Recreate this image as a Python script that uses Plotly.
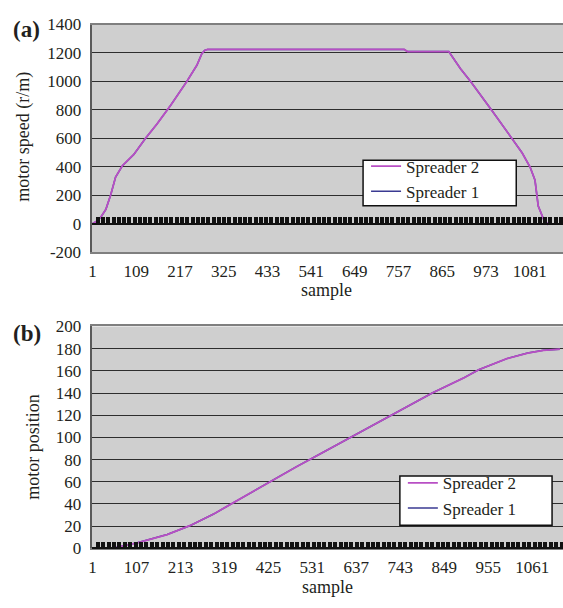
import plotly.graph_objects as go

# (a) motor speed vs sample
speed_samples = [1, 10, 21, 34, 46, 58, 75, 103, 132, 160, 193, 222, 234, 259, 271, 278, 285,
                 500, 771, 779, 881, 910, 935, 988, 1037, 1062, 1082, 1094, 1102, 1115, 1127]
speed_spreader2 = [0, 15, 44, 101, 203, 328, 408, 487, 601, 700, 828, 950, 1000, 1115, 1195, 1218, 1225,
                   1225, 1225, 1210, 1210, 1089, 999, 794, 601, 499, 397, 305, 124, 33, -8]
speed_spreader1 = [0, 15, 44, 101, 203, 328, 408, 487, 601, 700, 828, 950, 1000, 1115, 1195, 1218, 1225,
                   1225, 1225, 1210, 1210, 1089, 999, 794, 601, 499, 397, 305, 124, 33, -8]
speed_ticks = [1, 109, 217, 325, 433, 541, 649, 757, 865, 973, 1081]
speed_yticks = [-200, 0, 200, 400, 600, 800, 1000, 1200, 1400]

# (b) motor position vs sample
pos_samples = [1, 49, 109, 181, 237, 293, 341, 429, 493, 565, 623, 720, 820, 896, 932, 1000, 1050, 1088, 1128]
pos_spreader2 = [0, 0, 5, 12.4, 20.6, 30.9, 41.2, 60.3, 73.6, 88.2, 100, 120, 140, 153.6, 161, 171, 176, 178.5, 179.5]
pos_spreader1 = [0, 0, 5, 12.4, 20.6, 30.9, 41.2, 60.3, 73.6, 88.2, 100, 120, 140, 153.6, 161, 171, 176, 178.5, 179.5]
pos_ticks = [1, 107, 213, 319, 425, 531, 637, 743, 849, 955, 1061]

W, H = 563, 608
FONT = "Liberation Serif"
TXT = "#231f20"
C1 = "#3a3a92"
C2 = "#b84fc4"
BG = "#cfcfcf"
GRID = "#2e2e2e"


def py(px):
    return 1 - px / H


dom_x = [89 / W, 1.0]
dom_a = [py(251), py(16)]
dom_b = [py(556.7), py(327.7)]
xr_a = [1 - 1 / 0.407, 1 + 473 / 0.407]
xr_b = [1 - 1 / 0.417, 1 + 473 / 0.417]

fig = go.Figure()
fig.add_trace(go.Scatter(x=speed_samples, y=speed_spreader1, name="Spreader 1", mode="lines",
                         line=dict(color=C1, width=1.5), xaxis="x", yaxis="y", legend="legend"))
fig.add_trace(go.Scatter(x=speed_samples, y=speed_spreader2, name="Spreader 2", mode="lines",
                         line=dict(color=C2, width=1.8), xaxis="x", yaxis="y", legend="legend"))
fig.add_trace(go.Scatter(x=pos_samples, y=pos_spreader1, name="Spreader 1", mode="lines",
                         line=dict(color=C1, width=1.5), xaxis="x2", yaxis="y2", legend="legend2"))
fig.add_trace(go.Scatter(x=pos_samples, y=pos_spreader2, name="Spreader 2", mode="lines",
                         line=dict(color=C2, width=1.8), xaxis="x2", yaxis="y2", legend="legend2"))
# carriers for the dense category-tick axes crossing at zero
fig.add_trace(go.Scatter(x=[None], y=[None], xaxis="x3", yaxis="y", showlegend=False, hoverinfo="skip"))
fig.add_trace(go.Scatter(x=[None], y=[None], xaxis="x4", yaxis="y2", showlegend=False, hoverinfo="skip"))

tickfont = dict(family=FONT, size=17, color=TXT)

xcommon = dict(showgrid=False, zeroline=False, showline=True, linecolor="#7f7f7f", linewidth=2,
               mirror=True, ticks="", tickfont=tickfont, ticklabelstandoff=2)
ycommon = dict(showgrid=True, gridcolor=GRID, gridwidth=1, zeroline=False, showline=True,
               linecolor="#5a5a5a", linewidth=2, ticks="", tickfont=tickfont, ticklabelstandoff=5)
band = dict(showgrid=False, zeroline=False, showline=True, linecolor="#111111", linewidth=1.5,
            ticks="inside", ticklen=6, tickwidth=4, tickcolor="#111111", tick0=1, dtick=13,
            showticklabels=False, anchor="free", side="bottom")
legfont = dict(family=FONT, size=17, color=TXT)

fig.update_layout(
    width=W, height=H,
    margin=dict(l=0, r=0, t=0, b=0),
    paper_bgcolor="white",
    plot_bgcolor=BG,
    showlegend=True,
    xaxis=dict(domain=dom_x, range=xr_a, anchor="y", tickmode="array", tickvals=speed_ticks,
               ticktext=[str(v) for v in speed_ticks], **xcommon),
    yaxis=dict(domain=dom_a, range=[-200, 1400], anchor="x", tickmode="array", tickvals=speed_yticks,
               ticktext=[str(v) for v in speed_yticks], **ycommon),
    xaxis2=dict(domain=dom_x, range=xr_b, anchor="y2", tickmode="array", tickvals=pos_ticks,
                ticktext=[str(v) for v in pos_ticks], **xcommon),
    yaxis2=dict(domain=dom_b, range=[0, 200], dtick=20, anchor="x2", **ycommon),
    xaxis3=dict(overlaying="x", range=xr_a, domain=dom_x,
                position=dom_a[0] + (dom_a[1] - dom_a[0]) * 200 / 1600, **band),
    xaxis4=dict(overlaying="x2", range=xr_b, domain=dom_x, position=dom_b[0], **band),
    legend=dict(x=365 / W, y=py(144), xanchor="left", yanchor="top", bgcolor="rgba(0,0,0,0)",
                borderwidth=0, traceorder="reversed", font=legfont),
    legend2=dict(x=402 / W, y=py(471), xanchor="left", yanchor="top", bgcolor="rgba(0,0,0,0)",
                 borderwidth=0, traceorder="reversed", font=legfont),
    shapes=[
        dict(type="rect", xref="paper", yref="paper", x0=362 / W, x1=516 / W, y0=py(203), y1=py(156),
             fillcolor="white", line=dict(color="#111111", width=1.5), layer="above"),
        dict(type="rect", xref="paper", yref="paper", x0=399 / W, x1=552 / W, y0=py(533), y1=py(482),
             fillcolor="white", line=dict(color="#111111", width=1.5), layer="above"),
    ],
)

ann_font = dict(family=FONT, size=18, color=TXT)
fig.add_annotation(text="<b>(a)</b>", x=8 / W, y=py(21), xref="paper", yref="paper",
                   xanchor="left", yanchor="middle", showarrow=False,
                   font=dict(family=FONT, size=23, color=TXT))
fig.add_annotation(text="<b>(b)</b>", x=8 / W, y=py(335), xref="paper", yref="paper",
                   xanchor="left", yanchor="middle", showarrow=False,
                   font=dict(family=FONT, size=23, color=TXT))
fig.add_annotation(text="motor speed (r/m)", x=21 / W, y=py(132), xref="paper", yref="paper",
                   textangle=-90, xanchor="center", yanchor="middle", showarrow=False, font=ann_font)
fig.add_annotation(text="motor position", x=30 / W, y=py(452), xref="paper", yref="paper",
                   textangle=-90, xanchor="center", yanchor="middle", showarrow=False, font=ann_font)
fig.add_annotation(text="sample", x=325 / W, y=py(290), xref="paper", yref="paper",
                   xanchor="center", yanchor="middle", showarrow=False, font=ann_font)
fig.add_annotation(text="sample", x=326 / W, y=py(597), xref="paper", yref="paper",
                   xanchor="center", yanchor="middle", showarrow=False, font=ann_font)

fig.write_html("out.html")
